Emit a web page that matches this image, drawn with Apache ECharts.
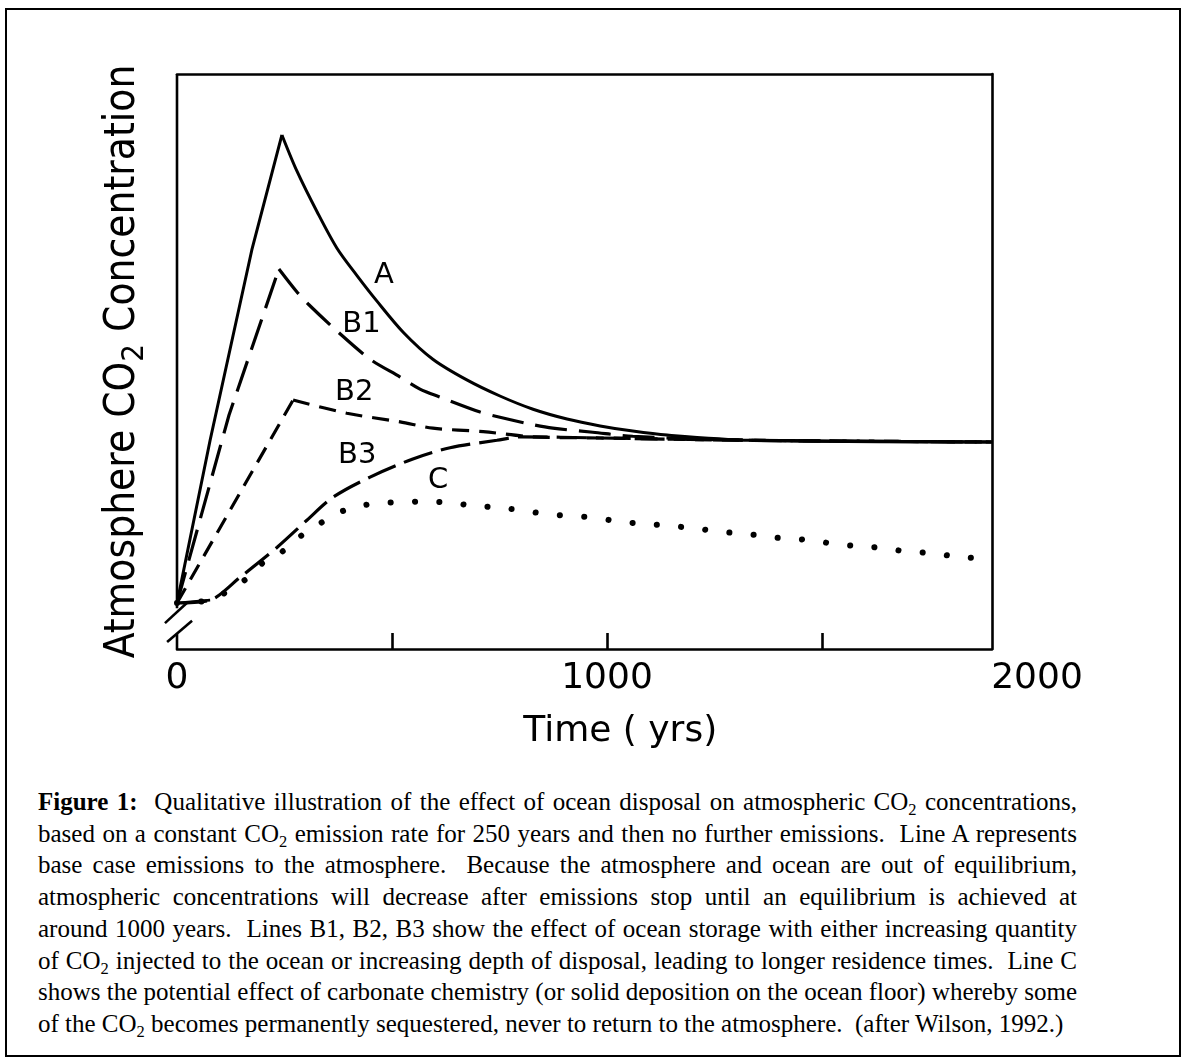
<!DOCTYPE html>
<html>
<head>
<meta charset="utf-8">
<script src="https://cdn.jsdelivr.net/npm/echarts@6/dist/echarts.min.js"></script>
<style>
html, body { margin: 0; padding: 0; background: #fff; }
#frame { position: absolute; left: 5px; top: 8px; width: 1176px; height: 1049px; border: 2px solid #000; box-sizing: border-box; }
#chart { position: absolute; left: 0; top: 0; width: 1185px; height: 770px; }
#caption { position: absolute; left: 38px; top: 786px; width: 1039px; font-family: 'Liberation Serif', 'Times New Roman', serif; font-size: 25px; line-height: 31.7px; color: #000; }
#caption div { text-align: justify; text-align-last: justify; }
#caption div.last { text-align-last: left; }
#caption sub { font-size: 0.66em; line-height: 0; vertical-align: -0.28em; }
</style>
</head>
<body>
<div id="frame"></div>
<div id="chart"></div>
<div id="caption">
<div><b>Figure 1:</b>&nbsp; Qualitative illustration of the effect of ocean disposal on atmospheric CO<sub>2</sub> concentrations,</div>
<div>based on a constant CO<sub>2</sub> emission rate for 250 years and then no further emissions.&nbsp; Line A represents</div>
<div>base case emissions to the atmosphere.&nbsp; Because the atmosphere and ocean are out of equilibrium,</div>
<div>atmospheric concentrations will decrease after emissions stop until an equilibrium is achieved at</div>
<div>around 1000 years.&nbsp; Lines B1, B2, B3 show the effect of ocean storage with either increasing quantity</div>
<div>of CO<sub>2</sub> injected to the ocean or increasing depth of disposal, leading to longer residence times.&nbsp; Line C</div>
<div>shows the potential effect of carbonate chemistry (or solid deposition on the ocean floor) whereby some</div>
<div class="last">of the CO<sub>2</sub> becomes permanently sequestered, never to return to the atmosphere.&nbsp; (after Wilson, 1992.)</div>
</div>
<script>
// ---- data (time in years, concentration in arbitrary units) ----
const xTickValues = [500, 1000, 1500];
const xLabelValues = [0, 1000, 2000];

const curveA = [[0, 8], [77, 36.3], [174, 69.4], [244, 89.4], [279, 83.1], [326, 76.0], [372, 69.7],
  [419, 64.9], [465, 60.5], [526, 55.1], [595, 50.4], [674, 46.8], [751, 44.0], [828, 41.7],
  [907, 40.0], [984, 38.8], [1060, 37.9], [1140, 37.2], [1333, 36.3], [1895, 36.0]];

const curveB1 = [[0, 8], [121, 40.7], [237, 66.1], [279, 62.1], [305, 60.0], [372, 55.3], [449, 50.4],
  [519, 47.3], [565, 45.2], [612, 43.8], [705, 41.2], [751, 40.3], [828, 39.0], [874, 38.4],
  [967, 37.7], [1060, 37.0], [1333, 36.3], [1895, 36.0]];

const curveB2 = [[0, 8], [270, 43.3], [395, 41.0], [519, 39.5], [595, 38.4], [712, 37.8], [828, 36.9],
  [984, 36.7], [1333, 36.3], [1895, 36.0]];

const curveB3 = [[0, 8], [77, 8.5], [147, 12.5], [233, 17.7], [302, 22.4], [363, 26.4], [449, 29.9],
  [547, 33.0], [635, 35.0], [744, 36.3], [800, 36.9], [984, 36.7], [1333, 36.3], [1895, 36.0]];

const curveC = [[0, 8], [77, 8.5], [119, 10.1], [163, 12.3], [200, 15.0], [244, 16.9], [281, 19.3],
  [321, 21.2], [363, 23.3], [416, 24.7], [474, 25.4], [526, 25.5], [577, 25.7], [635, 25.4],
  [695, 24.9], [763, 24.5], [826, 23.8], [886, 23.3], [947, 23.0], [1009, 22.4], [1063, 21.9],
  [1119, 21.6], [1177, 21.2], [1233, 20.7], [1291, 20.2], [1349, 19.8], [1402, 19.3], [1463, 19.0],
  [1519, 18.4], [1579, 17.9], [1637, 17.6], [1693, 17.0], [1747, 16.7], [1802, 16.2], [1858, 15.8]];

const curveNames = ['A', 'B1', 'B2', 'B3', 'C'];
const curveLabelAt = [[481, 65.0], [429, 56.5], [412, 44.6], [419, 33.6], [607, 29.3]];

const yAxisTitle = 'Atmosphere CO|2| Concentration';
const xAxisTitle = 'Time ( yrs)';
const timeStart = -50;  // room left of the y axis for the break marks (years)
const timeEnd = 1895;   // right edge of the drawn frame (years)
const breakGapLow = 2.6, breakGapHigh = 7.1;
const breakMarkUpper = [[-28, 4.5], [24, 8.1]];
const breakMarkLower = [[-23, 1.2], [35, 4.9]];

// ---- chart ----
const LETTER = "'DejaVu Sans', sans-serif";
const PX_PER_YEAR = 0.43;
const titleParts = yAxisTitle.split('|');
const chart = echarts.init(document.getElementById('chart'), null, { renderer: 'canvas' });

function peakIndex(data) {
  let k = 0;
  data.forEach((d, i) => { if (d[1] > data[k][1]) k = i; });
  return k;
}
function curve(name, data, style, smooth) {
  return {
    name: name, type: 'line', xAxisIndex: 0, yAxisIndex: 0, data: data,
    showSymbol: false, symbol: 'none', smooth: smooth || false,
    clip: false, silent: true,
    lineStyle: Object.assign({ color: '#000', width: 3 }, style),
    z: 5
  };
}
// rising leg drawn straight, falling leg smooth
function peakedCurve(name, data, style) {
  const k = peakIndex(data);
  return [curve(name, data.slice(0, k + 1), style, false), curve(name, data.slice(k), style, 0.3)];
}
function frameLine(data) {
  return {
    type: 'line', xAxisIndex: 0, yAxisIndex: 0, data: data, showSymbol: false, symbol: 'none',
    clip: false, silent: true, lineStyle: { color: '#000', width: 2.6, cap: 'butt' }, z: 6
  };
}
const frameAxisLine = { show: true, onZero: false, lineStyle: { color: '#000', width: 2.6 } };

const plotLeft = 177, plotTop = 74, plotHeight = 575;
const option = {
  animation: false,
  backgroundColor: 'transparent',
  grid: [
    { left: plotLeft + timeStart * PX_PER_YEAR, top: plotTop, width: (2000 - timeStart) * PX_PER_YEAR, height: plotHeight },
    { left: plotLeft, top: plotTop, width: timeEnd * PX_PER_YEAR, height: plotHeight }
  ],
  xAxis: [
    {
      gridIndex: 0, type: 'value', min: timeStart, max: 2000,
      axisLine: { show: false, onZero: false },
      splitLine: { show: false },
      axisTick: { show: true, inside: true, length: 16, customValues: xTickValues,
        lineStyle: { color: '#000', width: 2.6 } },
      axisLabel: { show: true, customValues: xLabelValues, margin: 12, color: '#000',
        fontFamily: LETTER, fontSize: 36, formatter: v => String(v) },
      name: xAxisTitle, nameLocation: 'middle', nameGap: 65,
      nameTextStyle: { color: '#000', fontFamily: LETTER, fontSize: 36, padding: [0, 0, 0, 48] }
    },
    {
      gridIndex: 1, type: 'value', min: 0, max: timeEnd, position: 'bottom',
      axisLine: frameAxisLine,
      axisTick: { show: false }, axisLabel: { show: false }, splitLine: { show: false }
    },
    {
      gridIndex: 1, type: 'value', min: 0, max: timeEnd, position: 'top',
      axisLine: frameAxisLine,
      axisTick: { show: false }, axisLabel: { show: false }, splitLine: { show: false }
    }
  ],
  yAxis: [
    {
      gridIndex: 0, type: 'value', min: 0, max: 100, show: false,
      axisLine: { show: false, onZero: false }, axisTick: { show: false }, axisLabel: { show: false },
      splitLine: { show: false }
    },
    {
      gridIndex: 1, type: 'value', min: 0, max: 100, position: 'right',
      axisLine: frameAxisLine,
      axisTick: { show: false }, axisLabel: { show: false }, splitLine: { show: false }
    },
    {
      gridIndex: 1, type: 'value', min: 0, max: 100, position: 'left',
      axisLine: { show: false, onZero: false }, axisTick: { show: false }, axisLabel: { show: false },
      splitLine: { show: false },
      name: '{n|' + titleParts[0] + '}{s|' + titleParts[1] + '}{n|' + titleParts[2] + '}',
      nameLocation: 'middle', nameRotate: 90, nameGap: 27,
      nameTextStyle: {
        rich: {
          n: { fontFamily: "'DejaVu Sans Condensed', 'DejaVu Sans', sans-serif", fontSize: 42, lineHeight: 54, color: '#000' },
          s: { fontFamily: "'DejaVu Sans Condensed', 'DejaVu Sans', sans-serif", fontSize: 31, lineHeight: 31, verticalAlign: 'bottom', color: '#000' }
        }
      }
    }
  ],
  series: [].concat(
    peakedCurve('A', curveA, { type: 'solid', width: 3 }),
    peakedCurve('B1', curveB1, { type: [32, 12], width: 3.2, cap: 'butt' }),
    peakedCurve('B2', curveB2, { type: [17, 10], width: 3.2, cap: 'butt' }),
    [
      curve('B3', curveB3, { type: [30, 9], width: 3.2, cap: 'butt' }, 0.3),
      curve('C', curveC, { type: [0.1, 24.2], width: 6, cap: 'round' }, 0.3),
      curve('C', curveC.slice(0, 2), { type: 'solid', width: 2.6 }, false),
      // left frame (with axis break)
      frameLine([[0, breakGapHigh], [0, 100]]),
      frameLine([[0, 0], [0, breakGapLow]]),
      // break marks
      frameLine(breakMarkUpper),
      frameLine(breakMarkLower),
      {
        type: 'scatter', xAxisIndex: 0, yAxisIndex: 0, symbolSize: 0, silent: true, z: 7,
        itemStyle: { color: '#000', opacity: 1 },
        data: curveNames.map((n, i) => ({ name: n, value: curveLabelAt[i] })),
        label: { show: true, position: 'inside', formatter: '{b}', color: '#000', opacity: 1,
          textBorderWidth: 0, textBorderColor: 'transparent',
          fontFamily: LETTER, fontSize: 29 }
      }
    ]
  )
};
chart.setOption(option);
</script>
</body>
</html>
